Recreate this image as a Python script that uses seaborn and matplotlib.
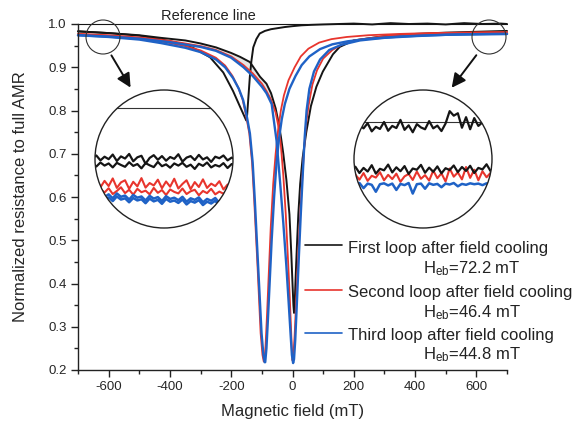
import numpy as np
import matplotlib
matplotlib.use("Agg")
import matplotlib.pyplot as plt
import seaborn as sns
from matplotlib.patches import Circle, FancyArrowPatch
from matplotlib.lines import Line2D
from matplotlib.ticker import MultipleLocator

# ---------------- data ----------------
# First loop, descending sweep (sharp switch near -150 mT, then saturates at 1.0)
blk1_x = [-700, -600, -500, -432, -380, -325, -269, -226, -194, -172, -158, -151,
          -148, -144, -139, -134, -128, -118, -107, -90, -70, -52, -25, 0, 30, 60,
          100, 150, 200, 260, 320, 380, 440, 500, 560, 620, 680, 700]
blk1_y = [0.983, 0.979, 0.973, 0.965, 0.957, 0.945, 0.923, 0.888, 0.845, 0.810, 0.788, 0.777,
          0.790, 0.830, 0.880, 0.915, 0.946, 0.965, 0.978, 0.984, 0.988, 0.990, 0.993, 0.995, 0.997, 0.998,
          0.999, 1.000, 1.001, 0.999, 1.002, 1.000, 1.001, 0.999, 1.002, 1.000, 1.001, 1.000]
# First loop, ascending sweep (deep dip near +5 mT)
blk2_x = [-700, -600, -500, -430, -350, -300, -250, -200, -171, -139, -106, -85, -70, -55,
          -45, -38, -30, -20, -10, -4, 0, 3, 5, 7, 10, 14, 19, 25, 33, 45, 60, 78, 99,
          132, 154, 200, 300, 400, 500, 600, 700]
blk2_y = [0.983, 0.979, 0.974, 0.968, 0.962, 0.955, 0.946, 0.933, 0.924, 0.912, 0.878, 0.862, 0.840, 0.805,
          0.770, 0.740, 0.700, 0.640, 0.560, 0.470, 0.400, 0.350, 0.332, 0.350, 0.410, 0.480, 0.560, 0.630, 0.690, 0.750, 0.810, 0.855, 0.890,
          0.930, 0.947, 0.962, 0.972, 0.977, 0.980, 0.982, 0.984]
# Second loop
red1_x = [-700, -600, -500, -430, -350, -300, -250, -220, -196, -177, -163, -152, -141, -132, -125,
          -114, -104, -98, -94, -92, -88, -83, -77, -71, -63, -55, -47, -38, -28, -13,
          7, 27, 52, 87, 127, 177, 247, 347, 447, 547, 647, 700]
red1_y = [0.977, 0.973, 0.967, 0.960, 0.949, 0.939, 0.922, 0.904, 0.880, 0.853, 0.826, 0.790, 0.747, 0.680, 0.593,
          0.438, 0.285, 0.235, 0.220, 0.220, 0.255, 0.330, 0.430, 0.530, 0.630, 0.700, 0.755, 0.800, 0.835, 0.870,
          0.900, 0.925, 0.943, 0.957, 0.965, 0.970, 0.974, 0.977, 0.979, 0.980, 0.981, 0.981]
red2_x = [-700, -600, -500, -400, -300, -250, -200, -160, -130, -100, -85, -70, -55, -45, -38, -30,
          -22, -15, -9, -5, -2, 0, 3, 7, 12, 17, 23, 29, 36, 43, 52, 65, 80, 100, 130, 160,
          200, 300, 400, 500, 600, 700]
red2_y = [0.977, 0.974, 0.969, 0.961, 0.949, 0.940, 0.925, 0.905, 0.886, 0.862, 0.845, 0.825, 0.795, 0.760, 0.720, 0.650,
          0.560, 0.460, 0.370, 0.300, 0.245, 0.222, 0.235, 0.280, 0.360, 0.440, 0.530, 0.610, 0.690, 0.760, 0.810, 0.860, 0.893, 0.920, 0.940, 0.952,
          0.962, 0.972, 0.976, 0.979, 0.980, 0.981]
# Third loop
blu1_x = [-700, -600, -500, -430, -350, -300, -250, -220, -194, -175, -161, -150, -139, -130, -123,
          -112, -101, -95, -91, -89, -85, -80, -74, -68, -60, -52, -44, -35, -25, -10,
          10, 30, 55, 90, 130, 180, 250, 350, 450, 550, 650, 700]
blu1_y = [0.974, 0.970, 0.964, 0.956, 0.945, 0.935, 0.918, 0.900, 0.875, 0.850, 0.824, 0.790, 0.747, 0.680, 0.593,
          0.438, 0.285, 0.235, 0.218, 0.218, 0.250, 0.320, 0.410, 0.500, 0.600, 0.680, 0.735, 0.780, 0.815, 0.850,
          0.880, 0.905, 0.925, 0.942, 0.953, 0.960, 0.966, 0.971, 0.974, 0.976, 0.977, 0.977]
blu2_x = [-700, -600, -500, -400, -300, -250, -200, -160, -130, -100, -85, -68, -52, -40, -30,
          -20, -12, -6, -2, 2, 5, 9, 14, 20, 27, 34, 40, 46, 55, 70, 90, 120, 160,
          220, 300, 400, 500, 600, 700]
blu2_y = [0.974, 0.971, 0.966, 0.958, 0.947, 0.938, 0.922, 0.900, 0.880, 0.855, 0.840, 0.815, 0.730, 0.630, 0.540,
          0.440, 0.350, 0.280, 0.235, 0.216, 0.225, 0.270, 0.350, 0.450, 0.560, 0.660, 0.740, 0.800, 0.850, 0.890, 0.918, 0.940, 0.952,
          0.962, 0.968, 0.972, 0.975, 0.976, 0.977]

loop_labels = ["First loop after field cooling", "Second loop after field cooling",
               "Third loop after field cooling"]
heb_values = [72.2, 46.4, 44.8]

# magnified views (normalized resistance, samples across the circle)
inset_pos = np.linspace(-0.02, 1.02, 36)
L_blk_a = [0.9836, 0.9845, 0.9829, 0.9841, 0.9833, 0.9848, 0.9827, 0.9842, 0.9835, 0.9850, 0.9826, 0.9839,
           0.9844, 0.9818, 0.9837, 0.9846, 0.9831, 0.9843, 0.9828, 0.9840, 0.9834, 0.9849, 0.9825, 0.9838,
           0.9843, 0.9830, 0.9847, 0.9832, 0.9839, 0.9824, 0.9841, 0.9836, 0.9845, 0.9829, 0.9838, 0.9832]
L_blk_b = [0.9818, 0.9809, 0.9822, 0.9812, 0.9819, 0.9806, 0.9821, 0.9814, 0.9808, 0.9823, 0.9811, 0.9817,
           0.9803, 0.9820, 0.9813, 0.9807, 0.9824, 0.9810, 0.9816, 0.9805, 0.9819, 0.9812, 0.9821, 0.9808,
           0.9815, 0.9801, 0.9818, 0.9811, 0.9822, 0.9806, 0.9814, 0.9809, 0.9820, 0.9804, 0.9817, 0.9812]
L_red_a = [0.9748, 0.9768, 0.9741, 0.9762, 0.9745, 0.9770, 0.9739, 0.9757, 0.9764, 0.9736, 0.9759, 0.9744,
           0.9771, 0.9740, 0.9755, 0.9747, 0.9766, 0.9738, 0.9760, 0.9743, 0.9769, 0.9737, 0.9752, 0.9764,
           0.9735, 0.9758, 0.9742, 0.9767, 0.9739, 0.9753, 0.9745, 0.9761, 0.9734, 0.9750, 0.9741, 0.9748]
L_red_b = [0.9731, 0.9720, 0.9735, 0.9724, 0.9738, 0.9719, 0.9729, 0.9741, 0.9722, 0.9733, 0.9717, 0.9736,
           0.9725, 0.9730, 0.9718, 0.9739, 0.9723, 0.9732, 0.9716, 0.9734, 0.9726, 0.9721, 0.9737, 0.9719,
           0.9728, 0.9733, 0.9715, 0.9729, 0.9722, 0.9736, 0.9718, 0.9727, 0.9720, 0.9731, 0.9717, 0.9724]
L_blu_a = [0.9722, 0.9712, 0.9726, 0.9709, 0.9718, 0.9705, 0.9721, 0.9710, 0.9714, 0.9701, 0.9716, 0.9707,
           0.9711, 0.9698, 0.9713, 0.9704, 0.9709, 0.9696, 0.9712, 0.9703, 0.9707, 0.9699, 0.9710, 0.9694,
           0.9705, 0.9700, 0.9708, 0.9692, 0.9703, 0.9697, 0.9706, 0.9690, 0.9701, 0.9695, 0.9699, 0.9693]
L_blu_b = [0.9712, 0.9703, 0.9716, 0.9700, 0.9708, 0.9696, 0.9711, 0.9701, 0.9705, 0.9692, 0.9706, 0.9698,
           0.9702, 0.9689, 0.9704, 0.9695, 0.9700, 0.9687, 0.9703, 0.9694, 0.9698, 0.9690, 0.9701, 0.9685,
           0.9696, 0.9691, 0.9699, 0.9683, 0.9694, 0.9688, 0.9697, 0.9681, 0.9692, 0.9686, 0.9690, 0.9684]
R_blk_top = [0.9985, 0.9972, 0.9990, 0.9978, 0.9995, 0.9968, 0.9983, 0.9976, 0.9999, 0.9970, 0.9986, 0.9979,
             1.0006, 0.9973, 0.9988, 0.9965, 0.9992, 0.9981, 0.9975, 1.0002, 0.9978, 0.9987, 0.9969, 0.9994,
             1.0035, 1.0020, 1.0028, 0.9980, 1.0015, 0.9975, 1.0012, 0.9986, 0.9998, 0.9979, 1.0008, 0.9990]
R_blk_low = [0.9838, 0.9851, 0.9830, 0.9847, 0.9835, 0.9856, 0.9828, 0.9844, 0.9839, 0.9858, 0.9832, 0.9849,
             0.9836, 0.9853, 0.9827, 0.9845, 0.9841, 0.9857, 0.9831, 0.9848, 0.9834, 0.9852, 0.9829, 0.9846,
             0.9840, 0.9855, 0.9833, 0.9850, 0.9837, 0.9854, 0.9830, 0.9847, 0.9842, 0.9859, 0.9836, 0.9850]
R_red = [0.9812, 0.9825, 0.9808, 0.9830, 0.9804, 0.9821, 0.9815, 0.9833, 0.9806, 0.9824, 0.9810, 0.9828,
         0.9801, 0.9819, 0.9827, 0.9807, 0.9835, 0.9811, 0.9823, 0.9805, 0.9838, 0.9813, 0.9829, 0.9802,
         0.9845, 0.9818, 0.9832, 0.9809, 0.9850, 0.9814, 0.9841, 0.9806, 0.9836, 0.9816, 0.9831, 0.9820]
R_blu = [0.9796, 0.9792, 0.9797, 0.9780, 0.9795, 0.9791, 0.9768, 0.9793, 0.9796, 0.9789, 0.9795, 0.9774,
         0.9794, 0.9790, 0.9797, 0.9762, 0.9793, 0.9795, 0.9778, 0.9796, 0.9791, 0.9794, 0.9783, 0.9795,
         0.9792, 0.9797, 0.9786, 0.9794, 0.9791, 0.9796, 0.9793, 0.9795, 0.9790, 0.9796, 0.9792, 0.9794]

BLACK = "#151515"
RED = "#e8352d"
BLUE = "#1f62c6"
W, H = 573, 424

# ---------------- style ----------------
sns.set_style("ticks")
plt.rcParams["font.family"] = ["Liberation Sans", "DejaVu Sans"]
plt.rcParams["axes.unicode_minus"] = False
plt.rcParams["mathtext.fontset"] = "custom"
plt.rcParams["mathtext.rm"] = "Liberation Sans"
plt.rcParams["mathtext.it"] = "Liberation Sans:italic"

fig = plt.figure(figsize=(W / 100, H / 100), dpi=100)
ax = fig.add_axes([78 / W, 1 - 370 / H, (507 - 78) / W, (370 - 24) / H])

# grey band between first-loop and second-loop ascending branches
bx, by = np.array(blk2_x), np.array(blk2_y)
rx, ry = np.array(red2_x), np.array(red2_y)
mb = (bx >= -300) & (bx <= -45)
mr = (rx >= -300) & (rx <= -45)
ax.fill(np.concatenate([bx[mb], rx[mr][::-1]]), np.concatenate([by[mb], ry[mr][::-1]]),
        color="#e4e4e4", lw=0, zorder=0.5)

ax.axhline(1.0, color=BLACK, lw=0.8, zorder=1)

for xs, ys, c, lw in [(blk1_x, blk1_y, BLACK, 1.4), (blk2_x, blk2_y, BLACK, 1.4),
                      (red1_x, red1_y, RED, 1.3), (red2_x, red2_y, RED, 1.3),
                      (blu1_x, blu1_y, BLUE, 1.7), (blu2_x, blu2_y, BLUE, 1.7)]:
    sns.lineplot(x=xs, y=ys, ax=ax, color=c, lw=lw, sort=False, estimator=None, legend=False)
for ln in ax.lines:
    ln.set_clip_on(False)

ax.set_xlim(-700, 700)
ax.set_ylim(0.2, 1.0)
ax.xaxis.set_major_locator(MultipleLocator(200))
ax.xaxis.set_minor_locator(MultipleLocator(100))
ax.yaxis.set_major_locator(MultipleLocator(0.1))
ax.yaxis.set_minor_locator(MultipleLocator(0.05))
ax.tick_params(which="major", direction="out", length=5, width=1, labelsize=9.5, pad=3, color="#222")
ax.tick_params(which="minor", direction="out", length=3, width=1, color="#222")
sns.despine(ax=ax)
for s in ("left", "bottom"):
    ax.spines[s].set_linewidth(1.0)
    ax.spines[s].set_color("#222")

ax.set_xlabel("Magnetic field (mT)", fontsize=12, labelpad=8)
ax.set_ylabel("Normalized resistance to full AMR", fontsize=12)
ax.yaxis.set_label_coords((28 - 78) / 429, 0.5)

ax.text(-273, 1.0176, "Reference line", ha="center", va="center", fontsize=10.5, color="#222")

# legend drawn by hand to match layout
handle_y = [0.361, 0.231, 0.107]
first_base = [0.339, 0.212, 0.0867]
heb_base = [0.279, 0.152, 0.031]
for c, hy, fb, hb, lab, hv in zip([BLACK, RED, BLUE], handle_y, first_base, heb_base, loop_labels, heb_values):
    ax.add_line(Line2D([0.529, 0.615], [hy, hy], transform=ax.transAxes, color=c, lw=1.2, clip_on=False))
    ax.text(0.629, fb, lab, transform=ax.transAxes, fontsize=12, va="baseline", ha="left", color="#222")
    ax.text(0.805, hb, "H$_\\mathrm{eb}$=%.1f mT" % hv, transform=ax.transAxes, fontsize=12,
            va="baseline", ha="left", color="#222")

# small circles marking zoom regions
for cx, cy in [(103, 37), (489, 37)]:
    fig.add_artist(Circle((cx / 100, (H - cy) / 100), 0.17, transform=fig.dpi_scale_trans,
                          fill=False, ec="#333", lw=0.8))

# arrows
for x0, y0, x1, y1 in [(110, 53, 132, 90), (478, 53, 450, 90)]:
    fig.add_artist(FancyArrowPatch((x0 / W, 1 - y0 / H), (x1 / W, 1 - y1 / H), transform=fig.transFigure,
                                   arrowstyle="-|>,head_length=0.7,head_width=0.35", mutation_scale=12,
                                   color="#111", lw=1.4))


def make_inset(cx, cy, r, ylo, yhi):
    axi = fig.add_axes([(cx - r) / W, 1 - (cy + r) / H, 2 * r / W, 2 * r / H])
    axi.set_xlim(0, 1)
    axi.set_ylim(ylo, yhi)
    axi.axis("off")
    circ = Circle((0.5, 0.5), 0.5, transform=axi.transAxes, facecolor="white", edgecolor="none", zorder=0)
    axi.add_patch(circ)
    rim = Circle((0.5, 0.5), 0.5, transform=axi.transAxes, facecolor="none", edgecolor="#222", lw=1.0,
                 zorder=10, clip_on=False)
    axi.add_patch(rim)
    return axi, circ


def inset_line(axi, circ, ys, c, lw):
    sns.lineplot(x=inset_pos, y=ys, ax=axi, color=c, lw=lw, sort=False, estimator=None, legend=False)
    axi.lines[-1].set_clip_path(circ)


axL, cL = make_inset(164, 159, 69, 0.9608, 1.0059)
rl = axL.axhline(1.0, color="#333", lw=0.8)
rl.set_clip_path(cL)
inset_line(axL, cL, L_blk_a, BLACK, 1.6)
inset_line(axL, cL, L_blk_b, BLACK, 1.6)
inset_line(axL, cL, L_red_a, RED, 1.5)
inset_line(axL, cL, L_red_b, RED, 1.5)
inset_line(axL, cL, L_blu_a, BLUE, 1.8)
inset_line(axL, cL, L_blu_b, BLUE, 1.8)

axR, cR = make_inset(423, 159, 69, 0.9648, 1.0105)
rr = axR.axhline(1.0, color="#333", lw=0.8)
rr.set_clip_path(cR)
inset_line(axR, cR, R_blk_top, BLACK, 1.6)
inset_line(axR, cR, R_red, RED, 1.5)
inset_line(axR, cR, R_blk_low, BLACK, 1.6)
inset_line(axR, cR, R_blu, BLUE, 1.8)

fig.savefig("out.png", dpi=100)
